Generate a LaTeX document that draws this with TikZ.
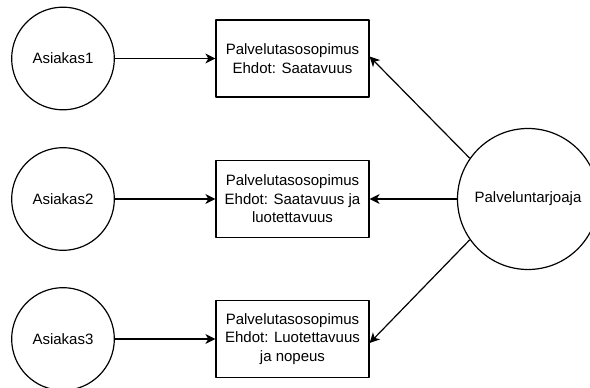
\documentclass[tikz,border=0pt]{standalone}
\usepackage{fontspec}
\setmainfont{Liberation Sans}
\usetikzlibrary{arrows.meta, positioning}

\begin{document}
\begin{tikzpicture}[x=0.75pt, y=-0.75pt, >=Stealth, line join=round]
	
	%======================
	% PARAMETERS (pixels, origin top left)
	%======================
	\def\cx{63}      % x of customer circles
	\def\bx{292.5}   % x of agreement boxes
	\def\px{528}     % x of provider circle
	\def\ya{58.5}    % row 1
	\def\yb{199}     % row 2
	\def\yc{339}     % row 3
	
	% Styles
	\tikzset{
		customer/.style={draw, circle, line width=0.9pt, minimum size=77pt, inner sep=0pt,
			font=\fontsize{11.25}{13.9}\selectfont},
		provider/.style={draw, circle, line width=0.9pt, minimum size=105.75pt, inner sep=0pt,
			font=\fontsize{11.25}{13.9}\selectfont},
		agreement/.style={draw, rectangle, line width=0.9pt, minimum width=114.75pt,
			minimum height=57.75pt, inner sep=2pt, align=center,
			font=\fontsize{11.25}{13.9}\selectfont},
		link/.style={->, line width=0.9pt, >={Stealth[length=7.5pt, width=7.5pt, inset=2.2pt]}}
	}
	
	\useasboundingbox (0,0) rectangle (590,388);
	
	%======================
	% NODES
	%======================
	\node[customer] (asiakas1) at (\cx,\ya) {Asiakas1};
	\node[customer] (asiakas2) at (\cx,\yb) {Asiakas2};
	\node[customer] (asiakas3) at (\cx,\yc) {Asiakas3};
	
	\node[agreement] (sla1) at (\bx,\ya) {Palvelutasosopimus\\Ehdot: Saatavuus};
	\node[agreement] (sla2) at (\bx,\yb) {Palvelutasosopimus\\Ehdot: Saatavuus ja\\luotettavuus};
	\node[agreement] (sla3) at (\bx,\yc) {Palvelutasosopimus\\Ehdot: Luotettavuus\\ja nopeus};
	
	\node[provider] (tarjoaja) at (\px,\yb) {Palveluntarjoaja};
	
	%======================
	% CONNECTORS
	%======================
	\draw[link] (asiakas1) -- (sla1);
	\draw[link] (asiakas2) -- (sla2);
	\draw[link] (asiakas3) -- (sla3);
	
	% provider to each agreement
	\draw[link] (tarjoaja.145) -- ([yshift=1.5]sla1.east);
	\draw[link] (tarjoaja) -- (sla2);
	\draw[link] (tarjoaja.215) -- ([yshift=-3]sla3.east);
\end{tikzpicture}
\end{document}
